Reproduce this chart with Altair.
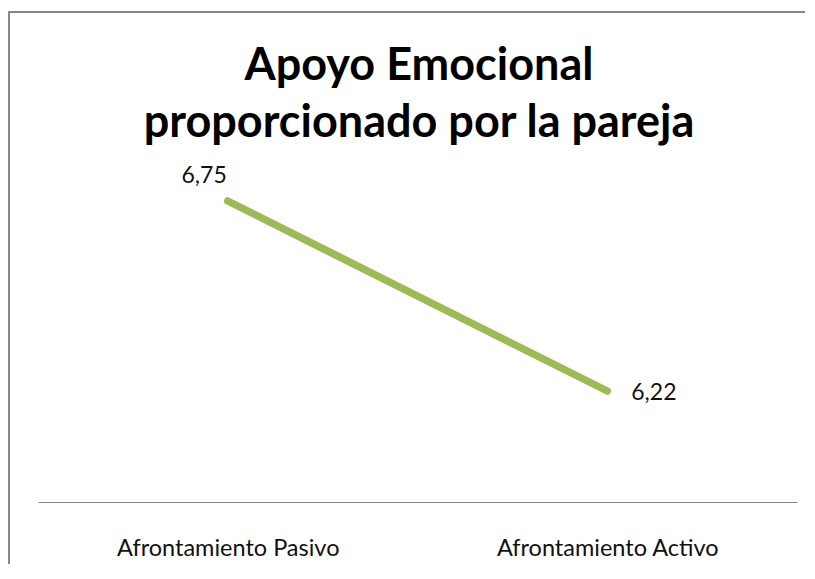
import altair as alt
import pandas as pd

categories = ["Afrontamiento Pasivo", "Afrontamiento Activo"]
values = [6.75, 6.22]
title_lines = ["Apoyo Emocional", "proporcionado por la pareja"]

df = pd.DataFrame({"cat": categories, "v": values})

W, H = 797, 494
FONT = "Lato"

x_enc = alt.X("cat:N", sort=categories,
              scale=alt.Scale(type="point", domain=categories, range=[30, 789], padding=0.5),
              axis=alt.Axis(title=None, ticks=False, grid=False, domainColor="#868686", domainWidth=1,
                            labelFont=FONT, labelFontSize=23.5, labelColor="#111111", labelLimit=0,
                            labelBaseline="alphabetic", labelPadding=53, labelAngle=0))
y_enc = alt.Y("v:Q", scale=alt.Scale(domain=[5.9104, 7.2884], nice=False, zero=False),
              axis=None)

base = alt.Chart(df)

line = base.mark_line(color="#9BBB59", strokeWidth=7.5, strokeCap="round").encode(x=x_enc, y=y_enc)

lab = base.transform_calculate(label="replace(format(datum.v, '.2f'), '.', ',')")
lab1 = lab.transform_filter(alt.datum.cat == categories[0]).mark_text(
    align="right", baseline="alphabetic", dx=-1, dy=-18, font=FONT, fontSize=23, color="#111111"
).encode(x=x_enc, y=y_enc, text="label:N")
lab2 = lab.transform_filter(alt.datum.cat == categories[1]).mark_text(
    align="left", baseline="alphabetic", dx=24, dy=9, font=FONT, fontSize=23, color="#111111"
).encode(x=x_enc, y=y_enc, text="label:N")

tdf = pd.DataFrame({"t": title_lines, "i": [0, 1]})
t1 = alt.Chart(tdf).transform_filter(alt.datum.i == 0).mark_text(
    font=FONT, fontWeight="bold", fontSize=45, align="center", baseline="alphabetic", color="#000000"
).encode(x=alt.value(411), y=alt.value(72), text="t:N")
t2 = alt.Chart(tdf).transform_filter(alt.datum.i == 1).mark_text(
    font=FONT, fontWeight="bold", fontSize=45, align="center", baseline="alphabetic", color="#000000"
).encode(x=alt.value(411), y=alt.value(129), text="t:N")

border_top = alt.Chart(tdf.head(1)).mark_rule(color="#878787", strokeWidth=2).encode(
    x=alt.value(0), x2=alt.value(W), y=alt.value(4))
border_left = alt.Chart(tdf.head(1)).mark_rule(color="#878787", strokeWidth=2).encode(
    x=alt.value(1), y=alt.value(4), y2=alt.value(H + 62))

chart = alt.layer(border_top, border_left, t1, t2, line, lab1, lab2).properties(
    width=W, height=H,
    autosize=alt.AutoSizeParams(type="none"),
    padding={"left": 0, "top": 0, "right": 0, "bottom": 62},
    background="#FFFFFF",
).configure_view(stroke=None)

chart.save("out.html", embed_options={"renderer": "svg", "actions": False})
